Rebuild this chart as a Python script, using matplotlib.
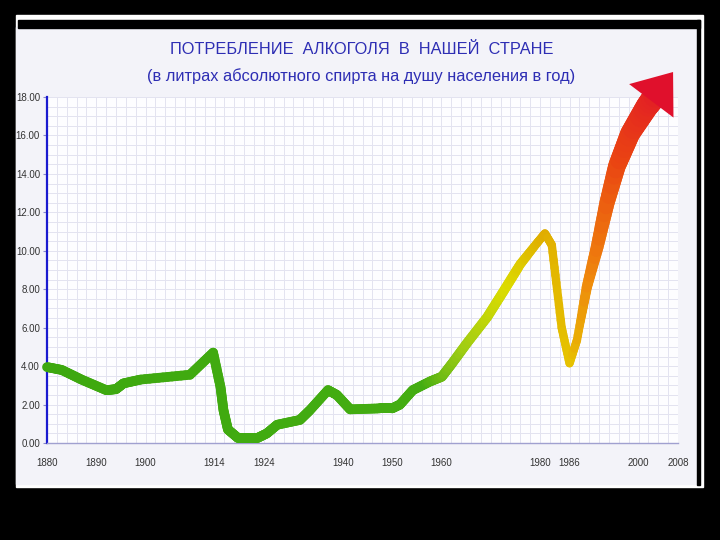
import numpy as np
import matplotlib.pyplot as plt
from matplotlib.collections import LineCollection
from matplotlib.colors import LinearSegmentedColormap
from matplotlib.patches import Rectangle

# Alcohol consumption, litres of pure alcohol per capita per year
years = [1880, 1883, 1887, 1892, 1894, 1895.5, 1899, 1909, 1913.7, 1915.2,
         1915.8, 1916.7, 1918.8, 1922.6, 1924.6, 1926.7, 1931.3, 1933.3, 1937,
         1938.8, 1941.5, 1947.5, 1950, 1951.6, 1954.2, 1957.7, 1960.1, 1962.2,
         1965.2, 1969.3, 1972.5, 1976, 1979.4, 1981, 1982.4, 1984.4, 1986,
         1987.5, 1989.5, 1991.6, 1993.6, 1995.6, 1998.3, 2001.7, 2007]
litres = [3.95, 3.8, 3.3, 2.75, 2.8, 3.1, 3.3, 3.55, 4.7, 2.9,
          1.7, 0.7, 0.25, 0.25, 0.5, 0.95, 1.2, 1.7, 2.75,
          2.5, 1.75, 1.8, 1.8, 2.0, 2.75, 3.2, 3.45, 4.15,
          5.2, 6.55, 7.85, 9.3, 10.4, 10.9, 10.3, 6.0, 4.15,
          5.35, 8.1, 10.2, 12.5, 14.4, 16.1, 17.5, 19.3]
tick_years = [1880, 1890, 1900, 1914, 1924, 1940, 1950, 1960, 1980, 1986, 2000, 2008]
title1 = "ПОТРЕБЛЕНИЕ  АЛКОГОЛЯ  В  НАШЕЙ  СТРАНЕ"
title2 = "(в литрах абсолютного спирта на душу населения в год)"

font = ["Liberation Sans", "DejaVu Sans"]
W, H = 720, 540


def fx(px):
    return px / W


def fy(py):
    return 1 - py / H


fig = plt.figure(figsize=(7.2, 5.4), dpi=100, facecolor="black")

# slide frame
fig.add_artist(Rectangle((fx(16), fy(487)), fx(703 - 16), (487 - 15) / H,
                         transform=fig.transFigure, color="white", zorder=0))
fig.add_artist(Rectangle((fx(16), fy(484)), fx(698 - 16), (484 - 27) / H,
                         transform=fig.transFigure, color="#f3f3f9", zorder=0))
fig.add_artist(Rectangle((fx(18), fy(28)), fx(700 - 18), 8 / H,
                         transform=fig.transFigure, color="black", zorder=1))
fig.add_artist(Rectangle((fx(697), fy(485)), fx(3), (485 - 20) / H,
                         transform=fig.transFigure, color="black", zorder=1))

fig.text(0.502, fy(50), title1, ha="center", va="center", color="#2e2eb4",
         fontsize=11.8, family=font)
fig.text(0.502, fy(76), title2, ha="center", va="center", color="#2e2eb4",
         fontsize=11.8, family=font)

ax = fig.add_axes([fx(47), fy(443), fx(678 - 47), (443 - 97) / H])
ax.set_facecolor("#fdfdff")
ax.set_xlim(1880, 2008)
ax.set_ylim(0, 18)
ax.set_yticks(np.arange(0, 19, 2))
ax.set_yticklabels([f"{v:.2f}" for v in np.arange(0, 19, 2)])
ax.set_xticks(tick_years)
ax.set_xticklabels([str(y) for y in tick_years])
ax.set_xticks(np.arange(1880, 2009, 2), minor=True)
ax.set_yticks(np.arange(0, 18.1, 0.5), minor=True)
ax.grid(which="both", color="#e3e3f0", lw=0.7)
ax.set_axisbelow(True)
ax.tick_params(axis="x", which="both", length=0, pad=11, labelsize=7,
               labelcolor="#333333")
ax.tick_params(axis="y", which="major", length=3, color="#8888cc", pad=2,
               labelsize=7, labelcolor="#333333")
ax.tick_params(axis="y", which="minor", length=0)
for lab in ax.get_xticklabels() + ax.get_yticklabels():
    lab.set_family(font)
ax.spines["top"].set_visible(False)
ax.spines["right"].set_visible(False)
ax.spines["left"].set_color("#1a1ad0")
ax.spines["left"].set_linewidth(1.6)
ax.spines["bottom"].set_color("#a0a0d0")
ax.spines["bottom"].set_linewidth(1.0)

# gradient line, thickening towards the end; the last leg is the arrow
cmap = LinearSegmentedColormap.from_list("drink", [
    (0.0, "#3da80f"), (0.60, "#44ad12"), (0.66, "#9ccc14"), (0.73, "#dcdc00"),
    (0.79, "#e0ac00"), (0.83, "#e6c400"), (0.86, "#ef8a0c"), (0.91, "#ea4512"),
    (1.0, "#e0102c")])
x = np.array(years, dtype=float)
y = np.array(litres, dtype=float)
# stop the shaft part-way along the final leg so the head sits on it
x[-1] = x[-2] + 0.5 * (x[-1] - x[-2])
y[-1] = y[-2] + 0.5 * (y[-1] - y[-2])
# split every straight leg into small pieces so width and colour change smoothly
t = np.linspace(0, 1, 12)[:-1]
xs = np.concatenate([x[i] + t * (x[i + 1] - x[i]) for i in range(len(x) - 1)] + [x[-1:]])
ys = np.concatenate([y[i] + t * (y[i + 1] - y[i]) for i in range(len(y) - 1)] + [y[-1:]])
pts = np.column_stack([xs, ys]).reshape(-1, 1, 2)
segs = np.concatenate([pts[:-1], pts[1:]], axis=1)
mid = (xs[:-1] + xs[1:]) / 2
widths = np.interp(mid, [1880, 1975, 1980, 1988, 1992, 1996, 2003],
                   [7, 7, 6, 6, 9.5, 13, 17])
lc = LineCollection(segs, colors=cmap((mid - 1880) / 128), linewidths=widths,
                    capstyle="round", joinstyle="round", clip_on=False, zorder=3)
ax.add_collection(lc)

ax.annotate("", xy=(years[-1], litres[-1]), xytext=(years[-2], litres[-2]),
            annotation_clip=False, zorder=4,
            arrowprops=dict(arrowstyle="-|>,head_length=1.3,head_width=1.0",
                            mutation_scale=20, color="#e0102c", lw=0,
                            shrinkA=0, shrinkB=0))

fig.savefig("out.png", dpi=100, facecolor="black")
